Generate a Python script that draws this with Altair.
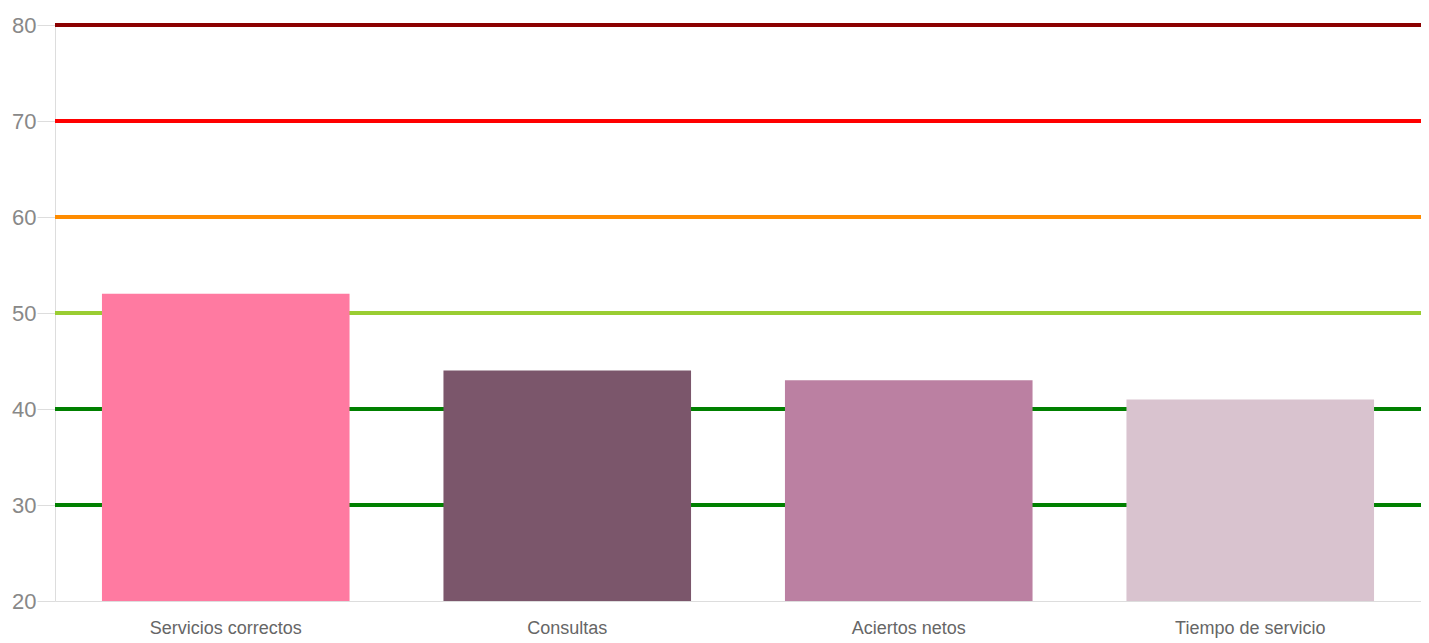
import altair as alt
import pandas as pd

categories = ["Servicios correctos", "Consultas", "Aciertos netos", "Tiempo de servicio"]
values = [52, 44, 43, 41]
bar_colors = ["#FF7AA1", "#7B566B", "#BB80A2", "#D9C3CF"]

thresholds = [30, 40, 50, 60, 70, 80]
threshold_colors = ["#008000", "#008000", "#9ACD32", "#FF8C00", "#FF0000", "#8B0000"]
threshold_names = ["t30", "t40", "t50", "t60", "t70", "t80"]

bars_df = pd.DataFrame({"cat": categories, "value": values})
lines_df = pd.DataFrame({"y": thresholds, "name": threshold_names})

yscale = alt.Scale(domain=[20, 80], nice=False, zero=False)

rules = alt.Chart(lines_df).mark_rule(strokeWidth=4).encode(
    y=alt.Y("y:Q", scale=yscale),
    color=alt.Color("name:N", scale=alt.Scale(domain=threshold_names, range=threshold_colors), legend=None),
)

bars = alt.Chart(bars_df).mark_bar(clip=True).encode(
    x=alt.X("cat:N", sort=categories, title=None,
            scale=alt.Scale(paddingInner=0.275, paddingOuter=0.1375),
            axis=alt.Axis(labelAngle=0, labelFontSize=18, labelColor="#666666",
                          labelFont="Liberation Sans", ticks=False, labelPadding=18,
                          domainColor="#dddddd", domainWidth=1)),
    y=alt.Y("value:Q", scale=yscale, title=None,
            axis=alt.Axis(values=[20, 30, 40, 50, 60, 70, 80], labelFontSize=22,
                          labelColor="#888888", labelFont="Liberation Sans",
                          tickColor="#dddddd", tickSize=18, labelPadding=1,
                          domainColor="#dddddd", grid=False)),
    y2=alt.datum(20),
    fill=alt.Fill("cat:N", scale=alt.Scale(domain=categories, range=bar_colors), legend=None),
)

chart = alt.layer(rules, bars).resolve_scale(color="independent").properties(
    width=1366,
    height=576,
    padding={"left": 47, "top": 17, "right": 0, "bottom": 41},
    autosize=alt.AutoSizeParams(type="none"),
).configure_view(stroke=None)

chart.save("out.html", embed_options={"renderer": "svg", "actions": False})
